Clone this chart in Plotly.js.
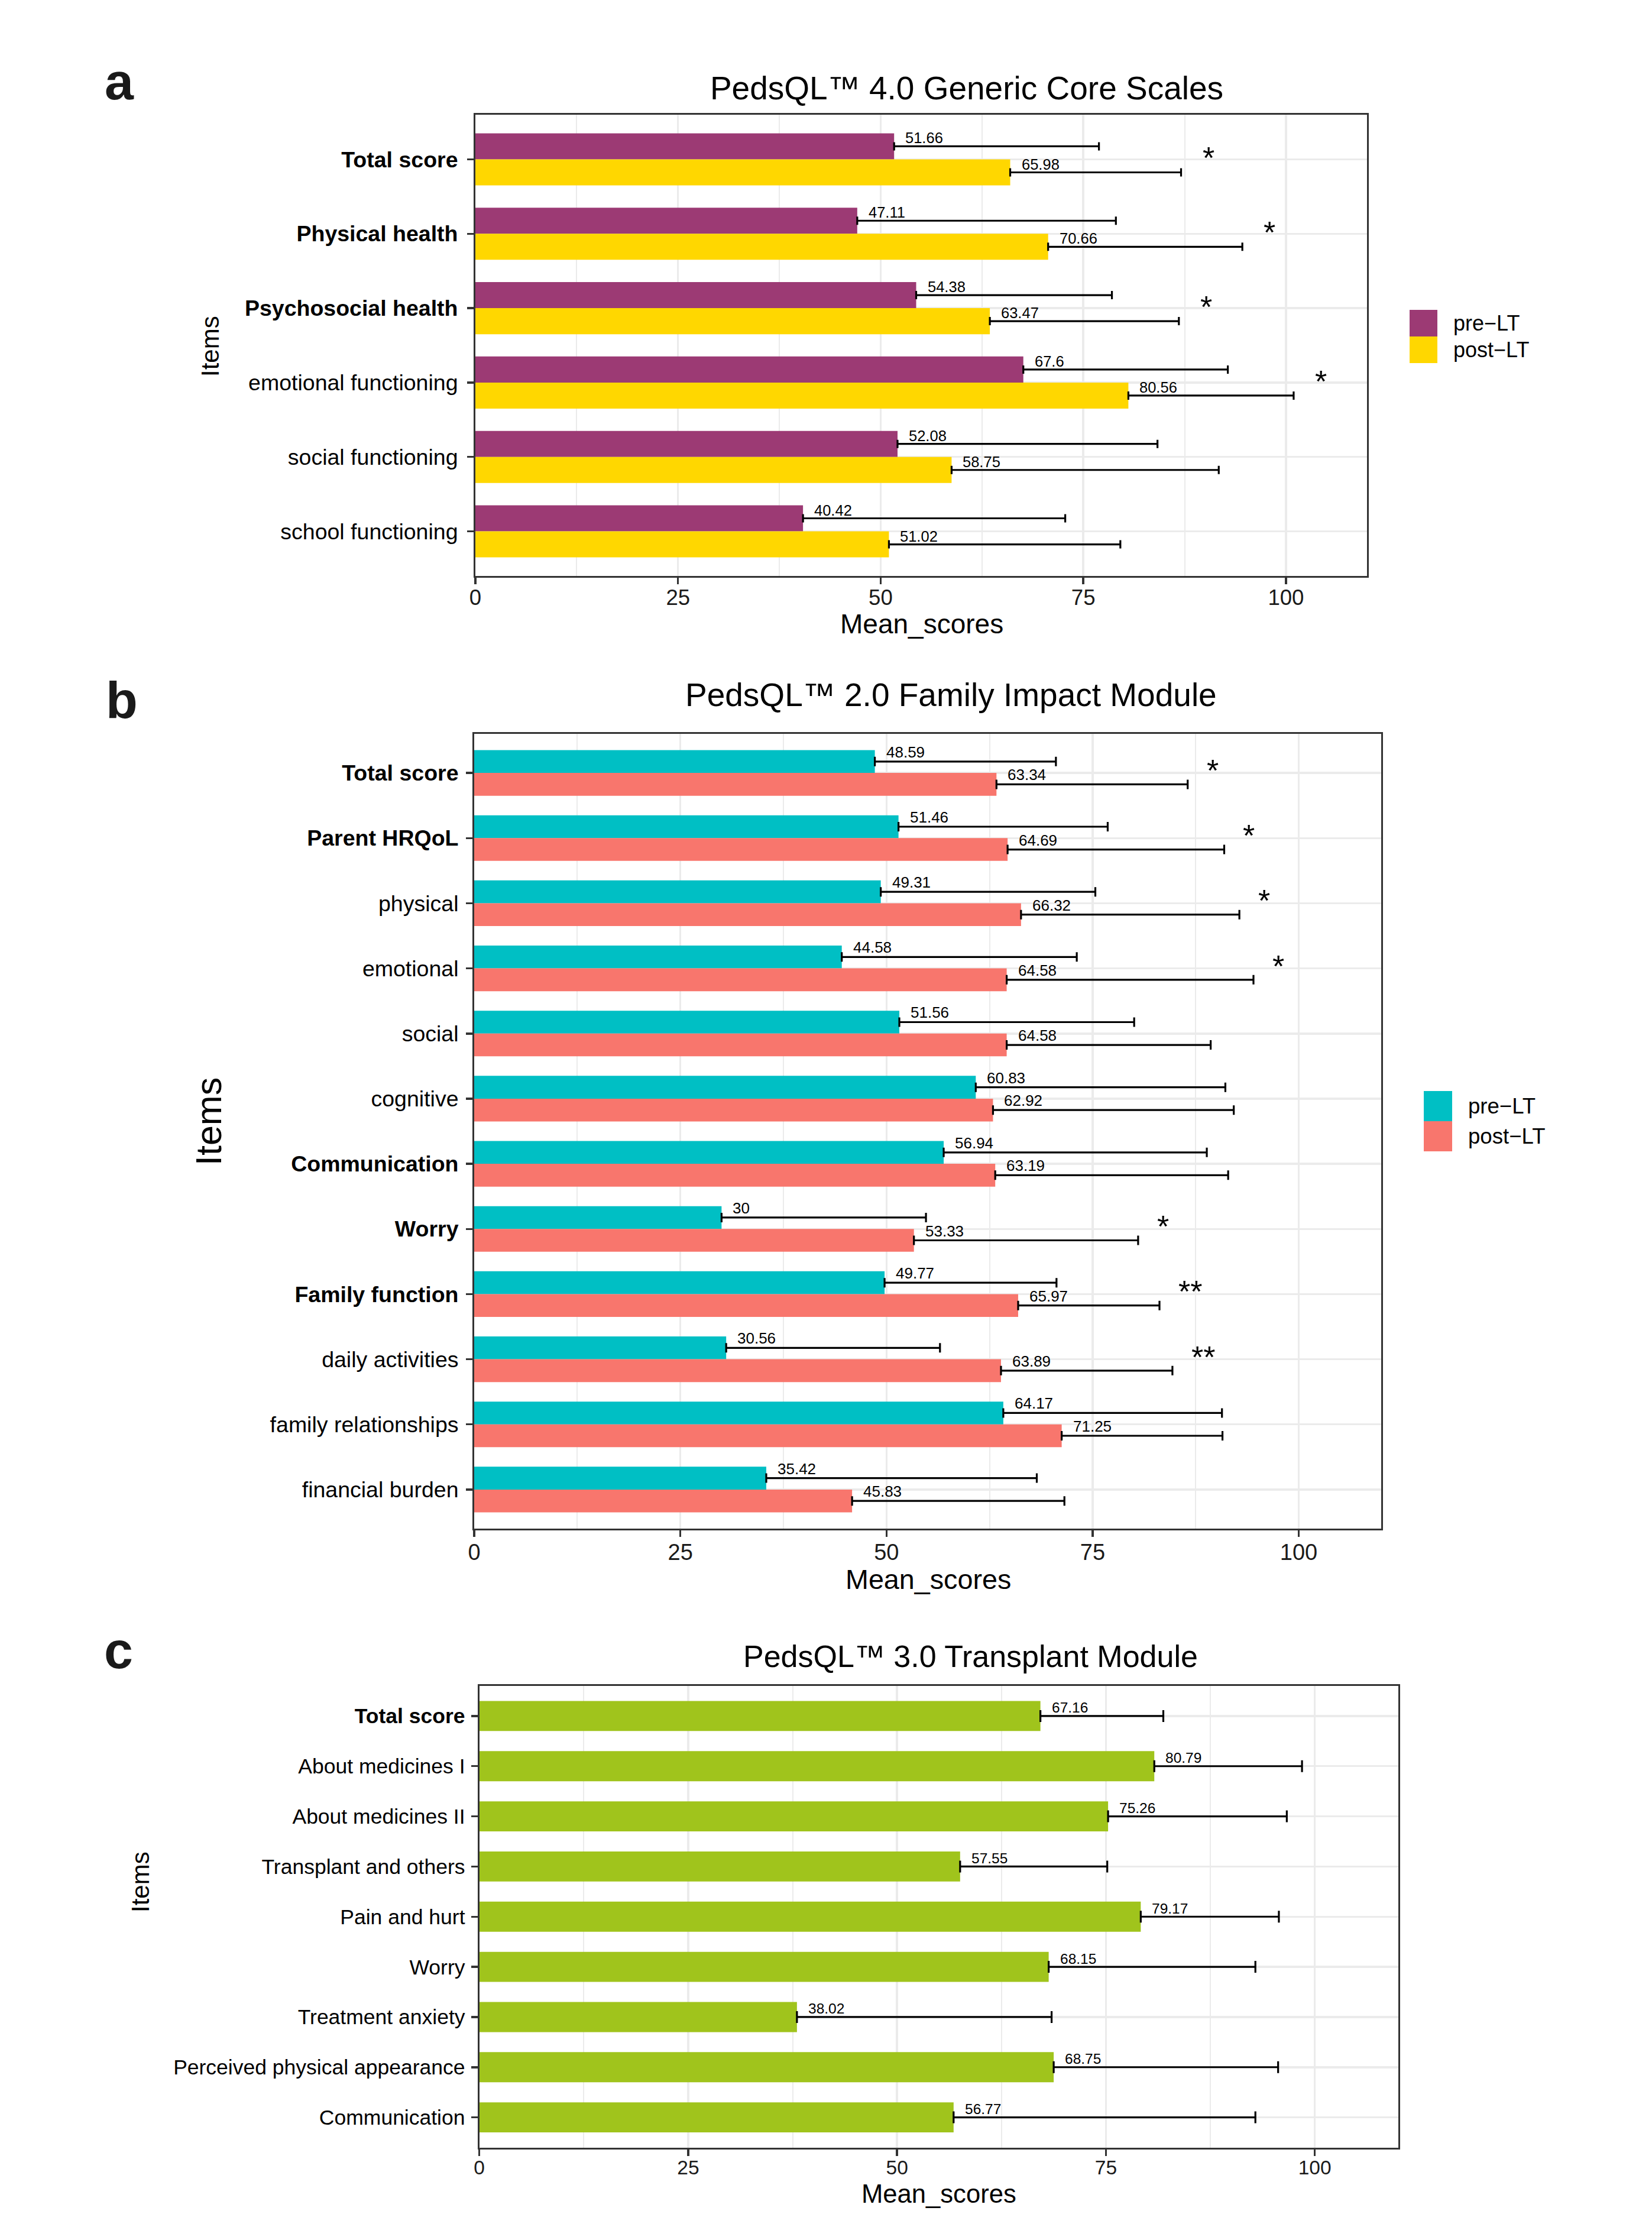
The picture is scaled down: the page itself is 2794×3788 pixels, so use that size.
<!DOCTYPE html>
<html>
<head>
<meta charset="utf-8">
<script src="https://cdn.plot.ly/plotly-3.0.1.min.js"></script>
<style>html,body{margin:0;padding:0;background:#ffffff;}</style>
</head>
<body>
<div id="chart" style="width:2794px;height:3788px;"></div>
<script>
// ---------------- DATA ----------------
const groupNames = ["pre−LT", "post−LT"];
const xTickValues = [0, 25, 50, 75, 100];

// Panel a: PedsQL 4.0 Generic Core Scales
const itemsA = ["Total score", "Physical health", "Psychosocial health", "emotional functioning", "social functioning", "school functioning"];
const summaryA = ["Total score", "Physical health", "Psychosocial health"];
const preA = [51.66, 47.11, 54.38, 67.6, 52.08, 40.42];
const postA = [65.98, 70.66, 63.47, 80.56, 58.75, 51.02];
const preSdA = [25.27, 31.91, 24.15, 25.23, 32.07, 32.35];
const postSdA = [21.08, 23.96, 23.32, 20.39, 32.96, 28.55];
const sigA = ["*", "*", "*", "*", "", ""];

// Panel b: PedsQL 2.0 Family Impact Module
const itemsB = ["Total score", "Parent HRQoL", "physical", "emotional", "social", "cognitive", "Communication", "Worry", "Family function", "daily activities", "family relationships", "financial burden"];
const summaryB = ["Total score", "Parent HRQoL", "Communication", "Worry", "Family function"];
const preB = [48.59, 51.46, 49.31, 44.58, 51.56, 60.83, 56.94, 30, 49.77, 30.56, 64.17, 35.42];
const postB = [63.34, 64.69, 66.32, 64.58, 64.58, 62.92, 63.19, 53.33, 65.97, 63.89, 71.25, 45.83];
const preSdB = [21.96, 25.37, 26.02, 28.5, 28.48, 30.27, 31.91, 24.79, 20.85, 25.93, 26.52, 32.81];
const postSdB = [23.19, 26.27, 26.48, 29.93, 24.74, 29.2, 28.25, 27.19, 17.14, 20.79, 19.5, 25.75];
const sigB = ["*", "*", "*", "*", "", "", "", "*", "**", "**", "", ""];

// Panel c: PedsQL 3.0 Transplant Module
const itemsC = ["Total score", "About medicines I", "About medicines II", "Transplant and others", "Pain and hurt", "Worry", "Treatment anxiety", "Perceived physical appearance", "Communication"];
const summaryC = ["Total score"];
const meanC = [67.16, 80.79, 75.26, 57.55, 79.17, 68.15, 38.02, 68.75, 56.77];
const sdC = [14.71, 17.68, 21.39, 17.61, 16.53, 24.74, 30.48, 26.86, 36.12];

const titles = ["PedsQL™ 4.0 Generic Core Scales", "PedsQL™ 2.0 Family Impact Module", "PedsQL™ 3.0 Transplant Module"];
const panelLetters = ["a", "b", "c"];

// ---------------- LAYOUT HELPERS ----------------
const W = 2794, H = 3788;
const fx = p => p / W;
const fy = p => 1 - p / H;
const FONT = "Liberation Sans, Arial, Helvetica, sans-serif";
const BORDER = "#333333";
const GRID = "#EBEBEB";

const panels = [
  { items: itemsA, summary: summaryA, series: [preA, postA], sds: [preSdA, postSdA], sig: sigA,
    colors: ["#9C3A74", "#FFD700"], box: [804, 2312, 194, 974], xa: "x", ya: "y",
    yTick: 37.5, yStand: 8, xTick: 36.6, xStand: -9, valSize: 25.5, valShiftY: 14, cap: 7, sigShift: 34, sigSize: 52, sigShiftY: 2 },
  { items: itemsB, summary: summaryB, series: [preB, postB], sds: [preSdB, postSdB], sig: sigB,
    colors: ["#00BFC4", "#F8766D"], box: [802, 2336, 1241, 2585], xa: "x2", ya: "y2",
    yTick: 37.5, yStand: 5, xTick: 38, xStand: -7, valSize: 26, valShiftY: 16, cap: 8, sigShift: 30, sigSize: 52, sigShiftY: 4 },
  { items: itemsC, summary: summaryC, series: [meanC], sds: [sdC], sig: null,
    colors: ["#A0C41C"], box: [810.6, 2365, 2851, 3631.5], xa: "x3", ya: "y3",
    yTick: 35.5, yStand: 3, xTick: 33.5, xStand: -9, valSize: 24.5, valShiftY: 14, cap: 10 }
];

const traces = [];
const annotations = [];
const shapes = [];
const layout = {
  width: W, height: H,
  margin: { l: 0, r: 0, t: 0, b: 0, pad: 0 },
  paper_bgcolor: "#ffffff", plot_bgcolor: "#ffffff",
  font: { family: FONT, color: "#000000" },
  barmode: "group",
  showlegend: false,
  title: { text: titles[0], xref: "paper", yref: "paper", x: fx(1635), y: fy(148.5), xanchor: "center", yanchor: "middle",
           font: { family: FONT, size: 55, color: "#000000" } }
};

panels.forEach((P, pi) => {
  const n = P.items.length;
  const xKey = "xaxis" + (pi === 0 ? "" : pi + 1);
  const yKey = "yaxis" + (pi === 0 ? "" : pi + 1);
  const [x0, x1, y0, y1] = P.box;
  layout[xKey] = {
    domain: [fx(x0), fx(x1)], anchor: P.ya, range: [0, 110], autorange: false,
    tickmode: "array", tickvals: xTickValues, ticktext: xTickValues.map(String),
    showgrid: true, gridcolor: GRID, gridwidth: 3.5,
    minor: { dtick: 12.5, tick0: 0, showgrid: true, gridcolor: GRID, gridwidth: 2, ticks: "" },
    zeroline: false, showline: true, mirror: true, linecolor: BORDER, linewidth: 3,
    ticks: "outside", ticklen: 11, tickwidth: 3.5, tickcolor: BORDER, ticklabelstandoff: P.xStand,
    tickfont: { family: FONT, size: P.xTick, color: "#1a1a1a" }, fixedrange: true
  };
  layout[yKey] = {
    domain: [fy(y1), fy(y0)], anchor: P.xa, type: "category",
    categoryorder: "array", categoryarray: P.items,
    range: [n - 0.4, -0.6], autorange: false,
    tickmode: "array", tickvals: P.items,
    ticktext: P.items.map(s => P.summary.includes(s) ? "<b>" + s + "</b>" : s),
    showgrid: true, gridcolor: GRID, gridwidth: 3.5,
    zeroline: false, showline: true, mirror: true, linecolor: BORDER, linewidth: 3,
    ticks: "outside", ticklen: 11, tickwidth: 3.5, tickcolor: BORDER, ticklabelstandoff: P.yStand,
    tickfont: { family: FONT, size: P.yTick, color: "#000000" }, fixedrange: true
  };

  const nSeries = P.series.length;
  const barW = nSeries === 2 ? 0.35 : 0.6;
  P.series.forEach((vals, si) => {
    const offset = nSeries === 2 ? (si === 0 ? -barW : 0) : -barW / 2;
    traces.push({
      type: "bar", orientation: "h", x: vals, y: P.items, xaxis: P.xa, yaxis: P.ya,
      name: nSeries === 2 ? groupNames[si] : "Mean",
      width: barW, offset: offset,
      marker: { color: P.colors[si], line: { width: 0 } },
      error_x: { type: "data", symmetric: false, array: P.sds[si], arrayminus: vals.map(() => 0),
                 color: "#000000", thickness: 3.2, width: P.cap },
      hoverinfo: "skip", showlegend: false
    });
    // value labels
    vals.forEach((v, i) => {
      const yPos = i + offset + barW / 2;
      annotations.push({
        xref: P.xa, yref: P.ya, x: v, y: yPos, text: String(v),
        xanchor: "left", yanchor: "middle", xshift: 17, yshift: P.valShiftY,
        showarrow: false, font: { family: FONT, size: P.valSize, color: "#000000" }
      });
    });
  });

  // significance stars
  if (P.sig) {
    P.sig.forEach((s, i) => {
      if (!s) return;
      const maxEnd = Math.max(P.series[0][i] + P.sds[0][i], P.series[1][i] + P.sds[1][i]);
      annotations.push({
        xref: P.xa, yref: P.ya, x: maxEnd, y: i, text: s,
        xanchor: "left", yanchor: "middle", xshift: P.sigShift, yshift: P.sigShiftY,
        showarrow: false, font: { family: FONT, size: P.sigSize, color: "#000000" }
      });
    });
  }
});

// panel titles b, c
[[1, 1608, 1175, 55], [2, 1641, 2801, 52]].forEach(([i, cx, cy, sz]) => {
  annotations.push({ xref: "paper", yref: "paper", x: fx(cx), y: fy(cy), text: titles[i],
    xanchor: "center", yanchor: "middle", showarrow: false, font: { family: FONT, size: sz, color: "#000000" } });
});
// panel letters
[[0, 202, 137], [1, 206, 1183], [2, 200, 2790]].forEach(([i, cx, cy]) => {
  annotations.push({ xref: "paper", yref: "paper", x: fx(cx), y: fy(cy), text: "<b>" + panelLetters[i] + "</b>",
    xanchor: "center", yanchor: "middle", showarrow: false, font: { family: FONT, size: 88, color: "#1a1a1a" } });
});
// axis titles
[[355, 585, 42], [353, 1897, 61], [237, 3183, 42]].forEach(([cx, cy, sz]) => {
  annotations.push({ xref: "paper", yref: "paper", x: fx(cx), y: fy(cy), text: "Items", textangle: -90,
    xanchor: "center", yanchor: "middle", showarrow: false, font: { family: FONT, size: sz, color: "#000000" } });
});
[[1559, 1055, 46], [1570, 2671, 46.7], [1588, 3710, 43.6]].forEach(([cx, cy, sz]) => {
  annotations.push({ xref: "paper", yref: "paper", x: fx(cx), y: fy(cy), text: "Mean_scores",
    xanchor: "center", yanchor: "middle", showarrow: false, font: { family: FONT, size: sz, color: "#000000" } });
});
// legends (panels a and b)
[[0, 2384, 2431, 524, 45, 2456, 36], [1, 2408, 2456, 1845, 51, 2481, 36.6]].forEach(([pi, kx0, kx1, ky0, kh, tx, sz]) => {
  groupNames.forEach((g, gi) => {
    const top = ky0 + gi * kh;
    shapes.push({ type: "rect", xref: "paper", yref: "paper", x0: fx(kx0), x1: fx(kx1), y0: fy(top + kh), y1: fy(top),
      fillcolor: panels[pi].colors[gi], line: { width: 0 } });
    annotations.push({ xref: "paper", yref: "paper", x: fx(tx), y: fy(top + kh / 2), text: g,
      xanchor: "left", yanchor: "middle", showarrow: false, font: { family: FONT, size: sz, color: "#000000" } });
  });
});

layout.annotations = annotations;
layout.shapes = shapes;

Plotly.newPlot("chart", traces, layout, { displayModeBar: false, staticPlot: true });
</script>
</body>
</html>
